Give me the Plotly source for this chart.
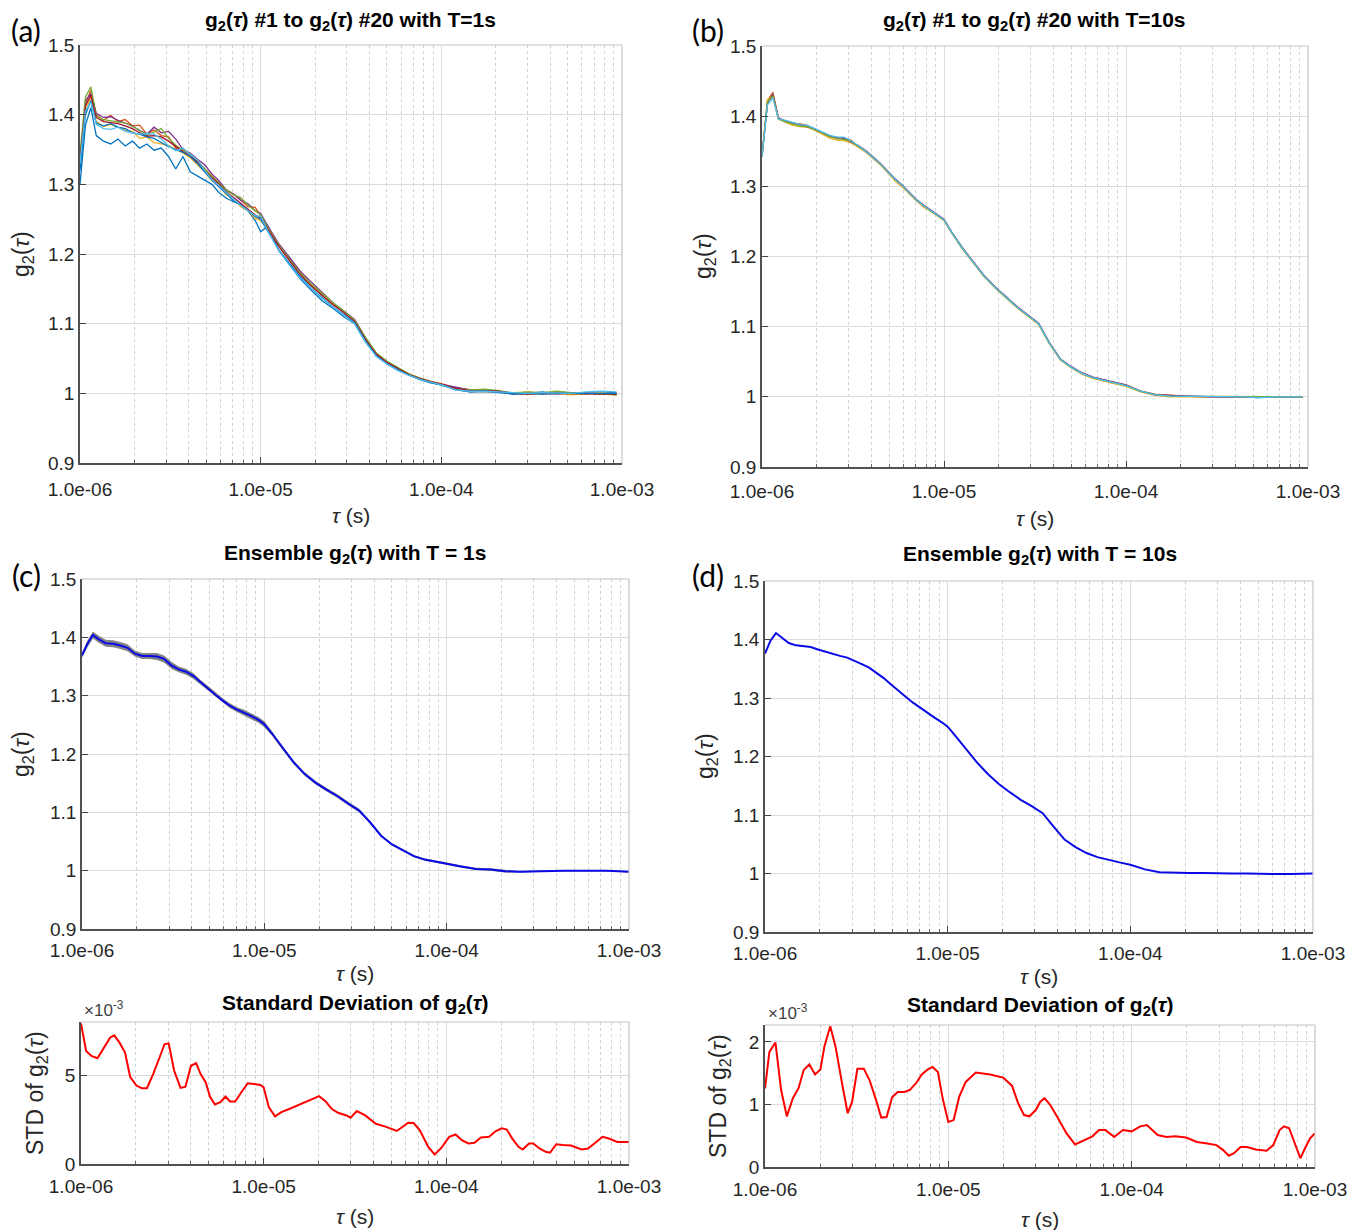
import plotly.graph_objects as go

# ---------------- data ----------------
# lag times (log10 of tau in seconds)
tau_exp_a = [-6.00, -5.97, -5.94, -5.91, -5.87, -5.83, -5.79, -5.75, -5.71, -5.67,
             -5.63, -5.59, -5.55, -5.51, -5.47, -5.43, -5.39, -5.35, -5.31, -5.27,
             -5.23, -5.19, -5.15, -5.11, -5.07, -5.03, -5.00, -4.96, -4.90, -4.84,
             -4.78, -4.72, -4.66, -4.60, -4.54, -4.48, -4.42, -4.36, -4.30, -4.24,
             -4.18, -4.12, -4.06, -4.00, -3.92, -3.84, -3.76, -3.68, -3.60, -3.52,
             -3.44, -3.36, -3.28, -3.20, -3.12, -3.03]
tau_exp_c = tau_exp_a[:-1] + [-3.00]

# (a) individual g2 curves, T = 1 s
g2_T1 = {
    "#0072BD a": [1.300, 1.385, 1.410, 1.370, 1.362, 1.358, 1.365, 1.355, 1.362, 1.352,
                  1.358, 1.349, 1.352, 1.340, 1.322, 1.340, 1.318, 1.312, 1.305, 1.300,
                  1.288, 1.280, 1.275, 1.272, 1.262, 1.248, 1.232, 1.240, 1.205, 1.184,
                  1.164, 1.148, 1.133, 1.122, 1.110, 1.100, 1.074, 1.054, 1.042, 1.033,
                  1.026, 1.020, 1.016, 1.012, 1.006, 1.002, 1.003, 1.002, 0.999, 1.000,
                  1.002, 0.999, 1.001, 0.999, 1.002, 1.001],
    "#D95319": [1.325, 1.415, 1.435, 1.400, 1.392, 1.399, 1.390, 1.393, 1.384, 1.385,
                1.372, 1.378, 1.370, 1.368, 1.352, 1.350, 1.343, 1.333, 1.322, 1.312,
                1.302, 1.291, 1.286, 1.278, 1.268, 1.267, 1.255, 1.238, 1.213, 1.193,
                1.173, 1.156, 1.141, 1.128, 1.117, 1.104, 1.078, 1.057, 1.044, 1.036,
                1.028, 1.022, 1.017, 1.014, 1.008, 1.005, 1.004, 1.003, 1.000, 0.999,
                1.000, 1.001, 0.999, 0.999, 1.000, 0.998],
    "#EDB120": [1.340, 1.405, 1.425, 1.390, 1.383, 1.386, 1.382, 1.378, 1.376, 1.366,
                1.368, 1.360, 1.358, 1.356, 1.350, 1.345, 1.338, 1.328, 1.318, 1.305,
                1.298, 1.285, 1.280, 1.268, 1.262, 1.251, 1.248, 1.235, 1.212, 1.192,
                1.172, 1.156, 1.142, 1.128, 1.117, 1.104, 1.079, 1.058, 1.045, 1.036,
                1.028, 1.022, 1.017, 1.013, 1.006, 1.003, 1.003, 1.002, 1.001, 1.002,
                0.999, 1.000, 0.998, 0.999, 1.001, 0.999],
    "#7E2F8E": [1.330, 1.420, 1.430, 1.402, 1.396, 1.397, 1.392, 1.388, 1.384, 1.377,
                1.372, 1.382, 1.374, 1.376, 1.365, 1.350, 1.345, 1.336, 1.328, 1.315,
                1.305, 1.292, 1.286, 1.277, 1.272, 1.262, 1.258, 1.240, 1.215, 1.195,
                1.175, 1.160, 1.145, 1.130, 1.118, 1.106, 1.080, 1.057, 1.045, 1.035,
                1.027, 1.022, 1.016, 1.013, 1.009, 1.005, 1.005, 1.003, 1.000, 1.000,
                1.001, 1.000, 1.000, 1.001, 0.999, 1.000],
    "#77AC30": [1.345, 1.425, 1.440, 1.398, 1.393, 1.391, 1.390, 1.388, 1.383, 1.378,
                1.370, 1.375, 1.380, 1.366, 1.356, 1.349, 1.344, 1.334, 1.322, 1.311,
                1.302, 1.292, 1.285, 1.281, 1.270, 1.262, 1.256, 1.238, 1.213, 1.192,
                1.172, 1.157, 1.143, 1.130, 1.118, 1.105, 1.080, 1.058, 1.046, 1.037,
                1.028, 1.022, 1.017, 1.012, 1.007, 1.005, 1.006, 1.004, 1.000, 1.002,
                1.001, 1.003, 1.001, 1.000, 0.999, 0.998],
    "#A2142F": [1.335, 1.412, 1.428, 1.396, 1.390, 1.389, 1.387, 1.384, 1.380, 1.374,
                1.369, 1.370, 1.368, 1.362, 1.354, 1.347, 1.341, 1.332, 1.320, 1.309,
                1.300, 1.289, 1.281, 1.273, 1.265, 1.256, 1.252, 1.236, 1.211, 1.190,
                1.170, 1.154, 1.140, 1.127, 1.116, 1.103, 1.077, 1.056, 1.044, 1.035,
                1.027, 1.021, 1.017, 1.013, 1.007, 1.004, 1.004, 1.003, 1.000, 0.999,
                1.000, 1.000, 0.999, 1.000, 1.000, 0.999],
    "#0072BD b": [1.320, 1.400, 1.420, 1.388, 1.384, 1.387, 1.382, 1.380, 1.374, 1.372,
                  1.368, 1.366, 1.360, 1.354, 1.350, 1.346, 1.340, 1.330, 1.318, 1.306,
                  1.296, 1.287, 1.276, 1.270, 1.262, 1.254, 1.250, 1.232, 1.206, 1.186,
                  1.167, 1.151, 1.137, 1.124, 1.113, 1.101, 1.075, 1.054, 1.042, 1.034,
                  1.026, 1.020, 1.015, 1.012, 1.005, 1.002, 1.003, 1.001, 0.999, 1.000,
                  0.999, 1.000, 1.000, 1.000, 1.001, 1.000],
    "#4DBEEE": [1.330, 1.405, 1.418, 1.386, 1.380, 1.379, 1.382, 1.376, 1.374, 1.372,
                1.373, 1.372, 1.365, 1.355, 1.348, 1.352, 1.343, 1.335, 1.320, 1.307,
                1.298, 1.288, 1.279, 1.270, 1.262, 1.255, 1.254, 1.233, 1.205, 1.184,
                1.165, 1.150, 1.136, 1.124, 1.112, 1.100, 1.074, 1.053, 1.042, 1.033,
                1.026, 1.020, 1.016, 1.012, 1.005, 1.003, 1.003, 1.002, 1.001, 1.000,
                1.001, 1.000, 1.000, 1.002, 1.003, 1.002],
}

# (b) individual g2 curves, T = 10 s
g2_T10 = {
    "#0072BD": [1.343, 1.419, 1.430, 1.397, 1.393, 1.390, 1.388, 1.386, 1.381, 1.376,
                1.372, 1.369, 1.368, 1.364, 1.357, 1.350, 1.341, 1.332, 1.321, 1.310,
                1.301, 1.290, 1.280, 1.272, 1.265, 1.257, 1.252, 1.235, 1.212, 1.192,
                1.172, 1.156, 1.142, 1.128, 1.116, 1.104, 1.076, 1.053, 1.042, 1.033,
                1.027, 1.023, 1.019, 1.016, 1.008, 1.003, 1.001, 1.001, 1.000, 1.000,
                1.000, 1.000, 0.999, 1.000, 1.000, 1.000],
    "#D95319": [1.343, 1.422, 1.434, 1.398, 1.392, 1.389, 1.389, 1.387, 1.380, 1.375,
                1.371, 1.370, 1.367, 1.366, 1.356, 1.349, 1.340, 1.331, 1.320, 1.309,
                1.300, 1.289, 1.279, 1.271, 1.264, 1.256, 1.252, 1.235, 1.212, 1.192,
                1.172, 1.156, 1.142, 1.128, 1.116, 1.104, 1.076, 1.053, 1.042, 1.033,
                1.027, 1.023, 1.019, 1.017, 1.008, 1.004, 1.002, 1.001, 1.000, 1.000,
                1.000, 1.000, 0.999, 1.000, 1.000, 1.000],
    "#EDB120": [1.343, 1.424, 1.428, 1.396, 1.391, 1.387, 1.385, 1.384, 1.380, 1.374,
                1.369, 1.366, 1.365, 1.362, 1.356, 1.349, 1.340, 1.331, 1.320, 1.308,
                1.299, 1.289, 1.279, 1.270, 1.264, 1.256, 1.251, 1.234, 1.211, 1.191,
                1.171, 1.155, 1.141, 1.127, 1.115, 1.103, 1.075, 1.052, 1.041, 1.032,
                1.026, 1.022, 1.018, 1.015, 1.007, 1.002, 1.000, 1.000, 1.000, 1.000,
                0.999, 1.000, 1.000, 0.999, 1.000, 1.000],
    "#7E2F8E": [1.343, 1.418, 1.431, 1.397, 1.393, 1.390, 1.387, 1.385, 1.382, 1.377,
                1.372, 1.369, 1.369, 1.363, 1.358, 1.351, 1.342, 1.333, 1.322, 1.311,
                1.302, 1.291, 1.281, 1.273, 1.266, 1.258, 1.253, 1.236, 1.213, 1.193,
                1.173, 1.157, 1.143, 1.129, 1.117, 1.105, 1.077, 1.054, 1.043, 1.034,
                1.028, 1.024, 1.020, 1.017, 1.008, 1.003, 1.002, 1.001, 1.000, 1.000,
                1.000, 1.000, 1.000, 1.000, 1.000, 1.000],
    "#77AC30": [1.343, 1.420, 1.429, 1.396, 1.392, 1.389, 1.386, 1.385, 1.381, 1.376,
                1.371, 1.368, 1.367, 1.364, 1.357, 1.350, 1.341, 1.332, 1.321, 1.310,
                1.301, 1.290, 1.280, 1.272, 1.265, 1.257, 1.252, 1.235, 1.212, 1.192,
                1.172, 1.156, 1.142, 1.128, 1.116, 1.104, 1.076, 1.053, 1.042, 1.033,
                1.027, 1.023, 1.019, 1.016, 1.008, 1.003, 1.001, 1.001, 1.000, 1.000,
                1.000, 1.000, 1.000, 1.000, 1.000, 1.000],
    "#4DBEEE": [1.343, 1.416, 1.426, 1.396, 1.394, 1.391, 1.388, 1.387, 1.382, 1.377,
                1.373, 1.370, 1.370, 1.365, 1.358, 1.350, 1.341, 1.332, 1.321, 1.310,
                1.301, 1.290, 1.280, 1.272, 1.265, 1.257, 1.252, 1.235, 1.212, 1.192,
                1.172, 1.156, 1.142, 1.128, 1.116, 1.104, 1.076, 1.053, 1.042, 1.033,
                1.027, 1.023, 1.019, 1.016, 1.008, 1.003, 1.001, 1.001, 1.000, 1.000,
                1.000, 1.000, 0.999, 1.000, 1.000, 1.000],
}

# (c) ensemble g2, T = 1 s, and half-width of its grey band
g2_ens_T1 = [1.369, 1.389, 1.404, 1.397, 1.390, 1.389, 1.386, 1.382, 1.372, 1.368,
             1.368, 1.367, 1.363, 1.352, 1.345, 1.341, 1.334, 1.323, 1.313, 1.302,
             1.292, 1.283, 1.276, 1.271, 1.265, 1.258, 1.251, 1.236, 1.210, 1.186,
             1.166, 1.151, 1.139, 1.128, 1.115, 1.103, 1.083, 1.060, 1.045, 1.035,
             1.025, 1.019, 1.016, 1.012, 1.007, 1.003, 1.002, 0.999, 0.998, 0.999,
             1.000, 1.000, 1.000, 1.000, 1.000, 0.998]
band_T1 = [0.004, 0.006, 0.006, 0.006, 0.006, 0.006, 0.006, 0.006, 0.005, 0.005,
           0.005, 0.006, 0.006, 0.006, 0.005, 0.005, 0.005, 0.004, 0.004, 0.004,
           0.004, 0.004, 0.004, 0.005, 0.005, 0.005, 0.005, 0.004, 0.003, 0.003,
           0.003, 0.003, 0.003, 0.003, 0.003, 0.003, 0.002, 0.002, 0.002, 0.002,
           0.002, 0.002, 0.002, 0.002, 0.002, 0.002, 0.002, 0.002, 0.001, 0.001,
           0.001, 0.001, 0.001, 0.001, 0.001, 0.001]

# (d) ensemble g2, T = 10 s
g2_ens_T10 = [1.376, 1.398, 1.411, 1.404, 1.394, 1.390, 1.388, 1.387, 1.383, 1.379,
              1.375, 1.372, 1.369, 1.364, 1.358, 1.352, 1.343, 1.334, 1.323, 1.312,
              1.302, 1.292, 1.283, 1.274, 1.266, 1.258, 1.251, 1.236, 1.212, 1.190,
              1.170, 1.153, 1.139, 1.126, 1.115, 1.103, 1.080, 1.058, 1.045, 1.035,
              1.028, 1.023, 1.019, 1.015, 1.007, 1.002, 1.001, 1.001, 1.001, 1.000,
              1.000, 1.000, 0.999, 0.999, 0.999, 1.000]

# standard deviation of g2, T = 1 s (units of 1e-3)
std_exp_T1 = [-6.000, -5.972, -5.943, -5.910, -5.874, -5.841, -5.818, -5.789, -5.759, -5.731,
              -5.697, -5.667, -5.639, -5.605, -5.570, -5.543, -5.520, -5.490, -5.455, -5.428,
              -5.398, -5.370, -5.345, -5.317, -5.294, -5.267, -5.237, -5.209, -5.184, -5.156,
              -5.122, -5.087, -5.053, -5.018, -5.000, -4.972, -4.938, -4.903, -4.857, -4.789,
              -4.731, -4.697, -4.662, -4.628, -4.593, -4.547, -4.524, -4.490, -4.444, -4.386,
              -4.329, -4.271, -4.237, -4.209, -4.179, -4.145, -4.099, -4.064, -4.030, -3.984,
              -3.949, -3.915, -3.880, -3.846, -3.811, -3.766, -3.731, -3.697, -3.669, -3.639,
              -3.605, -3.582, -3.547, -3.524, -3.490, -3.456, -3.432, -3.398, -3.363, -3.317,
              -3.260, -3.225, -3.179, -3.145, -3.110, -3.064, -3.000]
std_T1 = [7.96, 6.40, 6.12, 5.99, 6.59, 7.15, 7.28, 6.87, 6.31, 4.94,
          4.44, 4.29, 4.29, 5.09, 6.03, 6.78, 6.83, 5.28, 4.31, 4.38,
          5.56, 5.71, 5.09, 4.62, 3.82, 3.37, 3.50, 3.82, 3.54, 3.54,
          4.06, 4.57, 4.53, 4.47, 4.34, 3.22, 2.70, 2.94, 3.13, 3.41,
          3.69, 3.84, 3.56, 3.13, 2.90, 2.75, 2.62, 3.00, 2.75, 2.28,
          2.10, 1.87, 2.10, 2.34, 2.32, 1.91, 0.97, 0.54, 0.88, 1.54,
          1.67, 1.35, 1.16, 1.20, 1.50, 1.54, 1.85, 2.02, 1.95, 1.44,
          0.97, 0.82, 1.16, 1.16, 0.88, 0.69, 0.64, 1.12, 1.07, 1.05,
          0.82, 0.88, 1.25, 1.54, 1.44, 1.25, 1.25]

# standard deviation of g2, T = 10 s (units of 1e-3)
std_exp_T10 = [-6.000, -5.976, -5.943, -5.912, -5.881, -5.848, -5.817, -5.789, -5.758, -5.727,
               -5.698, -5.675, -5.644, -5.615, -5.580, -5.549, -5.525, -5.496, -5.461, -5.430,
               -5.394, -5.366, -5.337, -5.306, -5.276, -5.240, -5.211, -5.176, -5.145, -5.112,
               -5.086, -5.057, -5.029, -5.000, -4.971, -4.941, -4.905, -4.850, -4.772, -4.701,
               -4.653, -4.618, -4.587, -4.558, -4.523, -4.499, -4.475, -4.444, -4.404, -4.356,
               -4.309, -4.261, -4.214, -4.178, -4.143, -4.095, -4.048, -4.000, -3.953, -3.917,
               -3.858, -3.810, -3.763, -3.703, -3.644, -3.596, -3.537, -3.501, -3.470, -3.442,
               -3.406, -3.371, -3.323, -3.264, -3.228, -3.193, -3.169, -3.141, -3.110, -3.080,
               -3.051, -3.027, -3.000]
std_T10 = [1.255, 1.84, 1.99, 1.23, 0.81, 1.10, 1.26, 1.55, 1.64, 1.48,
           1.56, 1.94, 2.25, 1.92, 1.34, 0.86, 1.04, 1.57, 1.57, 1.39,
           1.07, 0.79, 0.80, 1.12, 1.20, 1.20, 1.23, 1.34, 1.48, 1.56,
           1.60, 1.52, 1.07, 0.72, 0.75, 1.12, 1.36, 1.51, 1.48, 1.43,
           1.30, 1.01, 0.83, 0.81, 0.91, 1.04, 1.10, 0.99, 0.79, 0.54,
           0.36, 0.43, 0.49, 0.59, 0.59, 0.48, 0.59, 0.57, 0.65, 0.67,
           0.51, 0.48, 0.49, 0.47, 0.40, 0.38, 0.35, 0.27, 0.18, 0.22,
           0.32, 0.32, 0.28, 0.26, 0.35, 0.59, 0.65, 0.62, 0.38, 0.14,
           0.32, 0.46, 0.54]

x_tick_vals = [1e-6, 1e-5, 1e-4, 1e-3]
x_tick_text = ["1.0e-06", "1.0e-05", "1.0e-04", "1.0e-03"]
g2_tick_vals = [0.9, 1.0, 1.1, 1.2, 1.3, 1.4, 1.5]
g2_tick_text = ["0.9", "1", "1.1", "1.2", "1.3", "1.4", "1.5"]

for arr in list(g2_T1.values()) + list(g2_T10.values()) + [g2_ens_T1, band_T1, g2_ens_T10]:
    assert len(arr) == len(tau_exp_a), len(arr)
assert len(std_T1) == len(std_exp_T1)
assert len(std_T10) == len(std_exp_T10)

tau_a = [10 ** e for e in tau_exp_a]
tau_c = [10 ** e for e in tau_exp_c]
tau_s1 = [10 ** e for e in std_exp_T1]
tau_s10 = [10 ** e for e in std_exp_T10]

# ---------------- layout helpers ----------------
W, H = 1371, 1230
FONT = "Liberation Sans, Arial, Helvetica, sans-serif"
TICK_FONT = dict(family=FONT, size=19, color="#262626")
MINOR_VALS = [m * 10 ** e for e in (-6, -5, -4) for m in range(2, 10)]

fig = go.Figure()


def px_x(x):
    return x / W


def px_y(y):
    return 1 - y / H


def axis_names(i):
    return ("x" if i == 1 else f"x{i}"), ("y" if i == 1 else f"y{i}")


def setup_panel(i, l, r, t, b, standoff, yrange, ytv, ytt):
    xn, yn = axis_names(i)
    xa = dict(domain=[px_x(l), px_x(r)], anchor=yn, type="log", range=[-6, -3],
              automargin=False,
              tickmode="array", tickvals=x_tick_vals, ticktext=x_tick_text,
              ticks="inside", ticklen=6, tickcolor="#444", tickwidth=1,
              ticklabelstandoff=standoff,
              showgrid=True, gridcolor="#dcdcdc", gridwidth=1,
              showline=True, linecolor="#505050", linewidth=1.5, zeroline=False,
              tickfont=TICK_FONT,
              minor=dict(tickmode="array", tickvals=MINOR_VALS, ticks="inside", ticklen=3,
                         tickcolor="#666", showgrid=True, gridcolor="#d2d2d2",
                         griddash="dot", gridwidth=1))
    ya = dict(domain=[px_y(b), px_y(t)], anchor=xn, range=yrange,
              automargin=False,
              tickmode="array", tickvals=ytv, ticktext=ytt,
              ticks="inside", ticklen=6, tickcolor="#444",
              showgrid=True, gridcolor="#dcdcdc", gridwidth=1,
              showline=True, linecolor="#505050", linewidth=1.5, zeroline=False,
              tickfont=TICK_FONT)
    fig.layout["xaxis" if i == 1 else f"xaxis{i}"] = xa
    fig.layout["yaxis" if i == 1 else f"yaxis{i}"] = ya
    # light box lines on top and right
    xd = ("x" if i == 1 else f"x{i}") + " domain"
    yd = ("y" if i == 1 else f"y{i}") + " domain"
    fig.add_shape(type="line", xref=xd, yref=yd, x0=0, x1=1, y0=1, y1=1,
                  line=dict(color="#c4c4c4", width=1.2))
    fig.add_shape(type="line", xref=xd, yref=yd, x0=1, x1=1, y0=0, y1=1,
                  line=dict(color="#c4c4c4", width=1.2))


def text(x, y, s, size=18, bold=False, angle=0, family=FONT, color="#000", xanchor="center"):
    fig.add_annotation(x=px_x(x), y=px_y(y), xref="paper", yref="paper", text=s,
                       showarrow=False, textangle=angle, xanchor=xanchor, yanchor="middle",
                       font=dict(family=family, size=size, color=color,
                                 weight="bold" if bold else "normal"))


G2 = "g<sub>2</sub>(<i>τ</i>)"

# panel geometry (pixels) and tick-label standoff
P = {
    1: (80, 622, 45, 463, 8),
    2: (762, 1308, 46, 467, 6),
    3: (82, 629, 579, 929, 3),
    4: (765, 1313, 581, 932, 3),
    5: (81, 629, 1022, 1164, 4),
    6: (765, 1315, 1025, 1167, 4),
}

for i in (1, 2, 3, 4):
    setup_panel(i, *P[i], [0.9, 1.5], g2_tick_vals, g2_tick_text)
setup_panel(5, *P[5], [0, 8.04], [0, 5], ["0", "5"])
setup_panel(6, *P[6], [0, 2.27], [0, 1, 2], ["0", "1", "2"])

# ---------------- traces ----------------
for key, vals in g2_T1.items():
    fig.add_trace(go.Scatter(x=tau_a, y=vals, mode="lines", xaxis="x", yaxis="y",
                             line=dict(color=key.split()[0], width=1.3), showlegend=False))
for key, vals in g2_T10.items():
    fig.add_trace(go.Scatter(x=tau_a, y=vals, mode="lines", xaxis="x2", yaxis="y2",
                             line=dict(color=key, width=1.3), showlegend=False))

lower = [m - s for m, s in zip(g2_ens_T1, band_T1)]
upper = [m + s for m, s in zip(g2_ens_T1, band_T1)]
fig.add_trace(go.Scatter(x=tau_c, y=lower, mode="lines", xaxis="x3", yaxis="y3",
                         line=dict(width=0, color="rgba(0,0,0,0)"), showlegend=False))
fig.add_trace(go.Scatter(x=tau_c, y=upper, mode="lines", xaxis="x3", yaxis="y3",
                         fill="tonexty", fillcolor="rgba(110,110,110,0.85)",
                         line=dict(width=0, color="rgba(0,0,0,0)"), showlegend=False))
fig.add_trace(go.Scatter(x=tau_c, y=g2_ens_T1, mode="lines", xaxis="x3", yaxis="y3",
                         line=dict(color="#0a0ae6", width=2), showlegend=False))
fig.add_trace(go.Scatter(x=tau_c, y=g2_ens_T10, mode="lines", xaxis="x4", yaxis="y4",
                         line=dict(color="#0a0ae6", width=2), showlegend=False))
fig.add_trace(go.Scatter(x=tau_s1, y=std_T1, mode="lines", xaxis="x5", yaxis="y5",
                         line=dict(color="#ff0000", width=2), showlegend=False))
fig.add_trace(go.Scatter(x=tau_s10, y=std_T10, mode="lines", xaxis="x6", yaxis="y6",
                         line=dict(color="#ff0000", width=2), showlegend=False))

# ---------------- texts ----------------
LBL = "Lato, 'Open Sans', sans-serif"
text(26, 30, "(a)", size=30, family=LBL)
text(708, 30, "(b)", size=30, family=LBL)
text(26, 575, "(c)", size=30, family=LBL)
text(708, 575, "(d)", size=30, family=LBL)

TS = 21
text(350, 21, f"{G2} #1 to {G2} #20 with T=1s", size=TS, bold=True)
text(1034, 21, f"{G2} #1 to {G2} #20 with T=10s", size=TS, bold=True)
text(355, 554, f"Ensemble {G2} with T = 1s", size=TS, bold=True)
text(1040, 555, f"Ensemble {G2} with T = 10s", size=TS, bold=True)
text(355, 1004, f"Standard Deviation of {G2}", size=TS, bold=True)
text(1040, 1006, f"Standard Deviation of {G2}", size=TS, bold=True)

XL = "<i>τ</i> (s)"
XS = 21
text(351, 516, XL, size=XS, color="#262626")
text(1035, 519, XL, size=XS, color="#262626")
text(355, 973, XL, size=XS, color="#262626")
text(1039, 976, XL, size=XS, color="#262626")
text(355, 1216, XL, size=XS, color="#262626")
text(1040, 1219, XL, size=XS, color="#262626")

YS = 23
text(22, 254, G2, size=YS, angle=-90, color="#262626")
text(704, 256, G2, size=YS, angle=-90, color="#262626")
text(22, 754, G2, size=YS, angle=-90, color="#262626")
text(706, 756, G2, size=YS, angle=-90, color="#262626")
text(36, 1093, "STD of " + G2, size=YS, angle=-90, color="#262626")
text(719, 1096, "STD of " + G2, size=YS, angle=-90, color="#262626")

text(82, 1009, "×10<sup>-3</sup>", size=17, color="#404040", xanchor="left")
text(766, 1012, "×10<sup>-3</sup>", size=17, color="#404040", xanchor="left")

fig.update_layout(width=W, height=H, margin=dict(l=0, r=0, t=0, b=0, autoexpand=False),
                  paper_bgcolor="white", plot_bgcolor="white", showlegend=False)

fig.write_html("out.html")
